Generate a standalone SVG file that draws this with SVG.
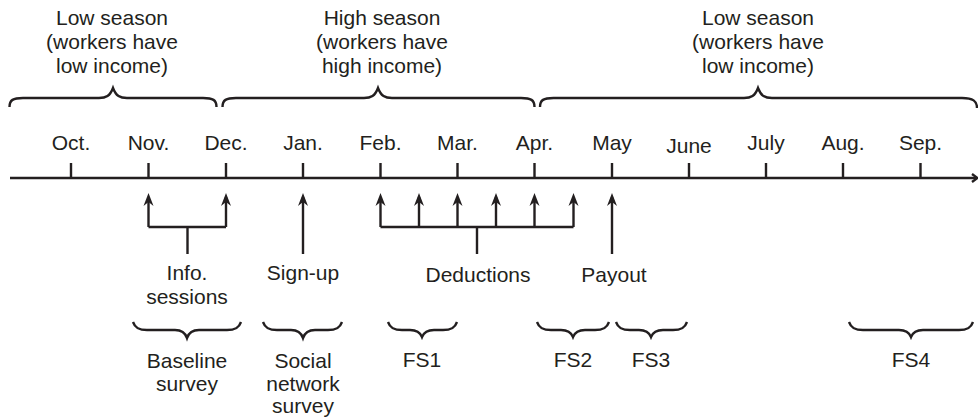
<svg xmlns="http://www.w3.org/2000/svg" width="978" height="419" viewBox="0 0 978 419">
<style>
text{font-family:"Liberation Sans",Arial,sans-serif;font-size:21px;fill:#231f20;text-anchor:middle}
.ln{fill:none;stroke:#231f20;stroke-width:2.4;stroke-linejoin:miter}
.br{fill:none;stroke:#231f20;stroke-width:2.4}
</style>
<defs>
<marker id="ah" viewBox="0 0 13 11" refX="9" refY="5.5" markerWidth="13" markerHeight="11" markerUnits="userSpaceOnUse" orient="auto">
<path d="M0,0.5 L13,5.5 L0,10.5 L4,5.5 z" fill="#231f20"/>
</marker>
</defs>
<rect width="978" height="419" fill="#fff"/>

<g id="seasons">
<g id="season-low-1">
<path class="br" d="M9.5,107 C9.5,100 13,98 23,98 L99,98 C106,98 110,96 113,88 C116,96 120,98 127,98 L203,98 C213,98 216.5,100 216.5,107"/>
<text x="112" y="25">Low season</text>
<text x="112" y="49">(workers have</text>
<text x="112" y="73">low income)</text>
</g>
<g id="season-high">
<path class="br" d="M222.5,107 C222.5,100 226,98 236,98 L364,98 C371,98 375,96 378,88 C381,96 385,98 392,98 L521,98 C531,98 534.5,100 534.5,107"/>
<text x="382" y="25">High season</text>
<text x="382" y="49">(workers have</text>
<text x="382" y="73">high income)</text>
</g>
<g id="season-low-2">
<path class="br" d="M540,107 C540,100 543.5,98 553.5,98 L744,98 C751,98 755,96 758,88 C761,96 765,98 772,98 L962,98 C973,98 977,101 977,108"/>
<text x="758" y="25">Low season</text>
<text x="758" y="49">(workers have</text>
<text x="758" y="73">low income)</text>
</g>
</g>

<g id="timeline">
<path class="ln" d="M10,178 H976"/>
<path class="ln" d="M972,174 L977.5,178 L972,182" stroke-width="1.6"/>
<path class="ln" d="M71,163 V178 M148.5,163 V178 M226,163 V178 M303,163 V178 M380.5,163 V178 M457.5,163 V178 M534.5,163 V178 M612,163 V178 M689,163 V178 M766,163 V178 M843,163 V178 M920.5,163 V178"/>
<text x="71" y="150">Oct.</text>
<text x="148.5" y="150">Nov.</text>
<text x="226" y="150">Dec.</text>
<text x="303" y="150">Jan.</text>
<text x="380.5" y="150">Feb.</text>
<text x="457.5" y="150">Mar.</text>
<text x="534.5" y="150">Apr.</text>
<text x="612" y="150">May</text>
<text x="689" y="153">June</text>
<text x="766" y="150">July</text>
<text x="843" y="150">Aug.</text>
<text x="920.5" y="150">Sep.</text>
</g>

<g id="connectors">
<path class="ln" d="M148.5,227 V197" marker-end="url(#ah)"/>
<path class="ln" d="M226,227 V197" marker-end="url(#ah)"/>
<path class="ln" d="M148.5,227 H226 M187.5,227 V254"/>
<path class="ln" d="M303,254 V197" marker-end="url(#ah)"/>
<path class="ln" d="M380.5,227 V197" marker-end="url(#ah)"/>
<path class="ln" d="M419,227 V197" marker-end="url(#ah)"/>
<path class="ln" d="M457.5,227 V197" marker-end="url(#ah)"/>
<path class="ln" d="M496,227 V197" marker-end="url(#ah)"/>
<path class="ln" d="M534.5,227 V197" marker-end="url(#ah)"/>
<path class="ln" d="M573.5,227 V197" marker-end="url(#ah)"/>
<path class="ln" d="M380.5,227 H573.5 M477,227 V254"/>
<path class="ln" d="M612,254 V197" marker-end="url(#ah)"/>
</g>

<g id="events">
<g id="info-sessions"><text x="187" y="280">Info.</text><text x="187" y="304">sessions</text></g>
<g id="sign-up"><text x="303" y="280">Sign-up</text></g>
<g id="deductions"><text x="478" y="282">Deductions</text></g>
<g id="payout"><text x="614" y="282">Payout</text></g>
</g>

<g id="surveys">
<g id="baseline-survey">
<path class="br" d="M133,322 C135,328 139,330 147,330 L175,330 C181,330 185,332 187,338 C189,332 193,330 199,330 L227,330 C235,330 239,328 241,322"/>
<text x="187" y="368">Baseline</text><text x="187" y="391">survey</text>
</g>
<g id="social-survey">
<path class="br" d="M263,322 C265,328 269,330 277,330 L291,330 C297,330 301,332 303,338 C305,332 309,330 315,330 L328,330 C336,330 340,328 342,322"/>
<text x="303" y="368">Social</text><text x="303" y="391">network</text><text x="303" y="413">survey</text>
</g>
<g id="fs1">
<path class="br" d="M388,322 C390,328 394,330 402,330 L410,330 C416,330 420,332 422,337 C424,332 428,330 434,330 L443,330 C451,330 455,328 457,322"/>
<text x="422" y="367">FS1</text>
</g>
<g id="fs2">
<path class="br" d="M537,322 C539,328 543,330 551,330 L561,330 C567,330 571,332 573,337 C575,332 579,330 585,330 L595,330 C603,330 607,328 609,322"/>
<text x="573" y="367">FS2</text>
</g>
<g id="fs3">
<path class="br" d="M616,322 C618,328 622,330 630,330 L639,330 C645,330 649,332 651,337 C653,332 657,330 663,330 L673,330 C681,330 685,328 687,322"/>
<text x="651" y="367">FS3</text>
</g>
<g id="fs4">
<path class="br" d="M849,322 C851,328 855,330 863,330 L899,330 C905,330 909,332 911,337 C913,332 917,330 923,330 L959,330 C967,330 971,328 973,322"/>
<text x="911" y="367">FS4</text>
</g>
</g>
</svg>
